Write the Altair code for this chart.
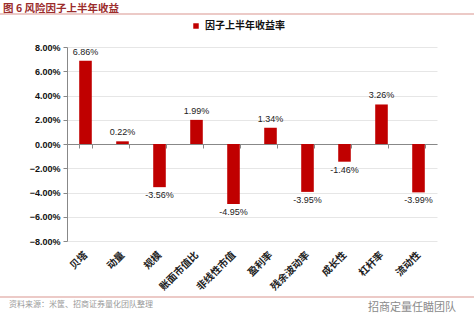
import altair as alt
import pandas as pd

categories = ["贝塔", "动量", "规模", "账面市值比", "非线性市值", "盈利率", "残余波动率", "成长性", "杠杆率", "流动性"]
values = [6.86, 0.22, -3.56, 1.99, -4.95, 1.34, -3.95, -1.46, 3.26, -3.99]
series_name = "因子上半年收益率"
title_text = "图 6 风险因子上半年收益"
source_text = "资料来源：米筐、招商证券量化团队整理"
brand_text = "招商定量任瞄团队"
y_ticks = [-8, -6, -4, -2, 0, 2, 4, 6, 8]

df = pd.DataFrame({"cat": categories, "val": values, "series": [series_name] * len(values)})
df["lbl"] = [f"{v:.2f}%" for v in values]

CJK = "Noto Sans CJK SC"
NUM = "Liberation Sans"
RED = "#C00000"
H = 194
XSCALE = alt.Scale(paddingInner=0.66, paddingOuter=0.33)
YSCALE = alt.Scale(domain=[-8, 8])
XAX = alt.Axis(orient="bottom", offset=-H / 2, tickBand="extent", tickSize=4,
               tickColor="#888888", domainColor="#888888", grid=False, title=None,
               labelAngle=-45, labelAlign="right", labelBaseline="middle",
               labelFont=CJK, labelFontWeight="bold", labelFontSize=10,
               labelColor="#222222", labelPadding=H / 2 + 8)
YAX = alt.Axis(values=y_ticks, labelOverlap=False, title=None,
               labelExpr="format(datum.value, '.2f') + '%'",
               labelFont=NUM, labelFontWeight="bold", labelFontSize=9,
               labelColor="#111111", domainColor="#888888", tickColor="#888888",
               tickSize=4, gridColor="#E6E6E6", labelPadding=3)

X = alt.X("cat:N", sort=categories, title=None, scale=XSCALE, axis=XAX)
Y = alt.Y("val:Q", title=None, scale=YSCALE, axis=YAX)

bars = alt.Chart(df).mark_bar(color=RED).encode(
    x=X, y=Y,
    color=alt.Color("series:N", scale=alt.Scale(domain=[series_name], range=[RED]),
                    legend=alt.Legend(title=None, orient="none", legendX=124, legendY=-26,
                                      symbolType="square", symbolSize=30,
                                      labelFont=CJK, labelFontWeight="bold", labelFontSize=10,
                                      labelColor="#111111")),
)

pos = alt.Chart(df).transform_filter("datum.val >= 0").mark_text(
    baseline="bottom", dy=-4, font=NUM, fontSize=9, color="#222222"
).encode(x=X, y=Y, text="lbl:N")

neg = alt.Chart(df).transform_filter("datum.val < 0").mark_text(
    baseline="top", dy=4, font=NUM, fontSize=9, color="#222222"
).encode(x=X, y=Y, text="lbl:N")

ann = pd.DataFrame({"t": [title_text]})
title = alt.Chart(ann).mark_text(align="left", baseline="middle", font=CJK, fontWeight="bold",
                                 fontSize=10.5, color="#9B2C2C").encode(
    text="t:N", x=alt.value(-64), y=alt.value(-38))
topline = alt.Chart(ann).mark_rule(color="#D9958F", strokeWidth=1).encode(
    x=alt.value(-67), x2=alt.value(407), y=alt.value(-33))
botline = alt.Chart(ann).mark_rule(color="#D9958F", strokeWidth=1).encode(
    x=alt.value(-67), x2=alt.value(407), y=alt.value(250))
src = alt.Chart(pd.DataFrame({"t": [source_text]})).mark_text(
    align="left", baseline="middle", font=CJK, fontSize=8, color="#9A9A9A").encode(
    text="t:N", x=alt.value(-58), y=alt.value(258))
brand = alt.Chart(pd.DataFrame({"t": [brand_text]})).mark_text(
    align="left", baseline="middle", font=CJK, fontSize=11, color="#8A8A8A").encode(
    text="t:N", x=alt.value(301), y=alt.value(261))

chart = alt.layer(bars, pos, neg, title, topline, botline, src, brand).properties(
    width=370, height=H,
    autosize=alt.AutoSizeParams(type="none"),
    padding={"left": 67, "top": 47, "right": 37, "bottom": 88},
).configure_view(stroke=None).configure_axis(domainWidth=1)

chart.save("out.html", embed_options={"renderer": "svg", "actions": False})
